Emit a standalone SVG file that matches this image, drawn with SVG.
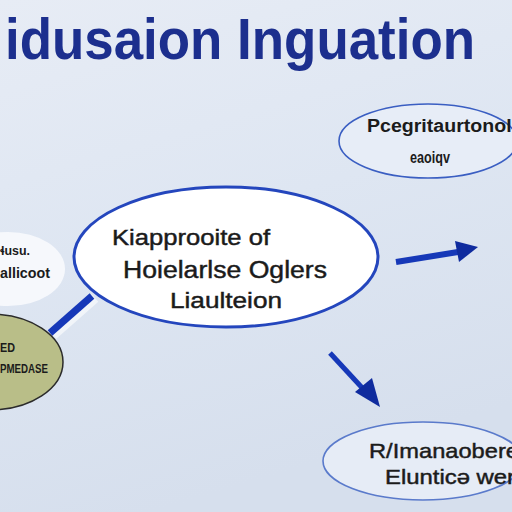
<svg xmlns="http://www.w3.org/2000/svg" width="512" height="512" viewBox="0 0 512 512">
<defs>
<linearGradient id="bg" x1="0" y1="0" x2="0.3" y2="1">
<stop offset="0" stop-color="#e7ecf5"/>
<stop offset="0.5" stop-color="#dee6f2"/>
<stop offset="1" stop-color="#d6dfed"/>
</linearGradient>
<style>
.title{font-family:"Liberation Sans",Arial,sans-serif;font-weight:bold;fill:#1c2f8e}
.t{font-family:"Liberation Sans",Arial,sans-serif;fill:#1b1b1b;stroke:#1b1b1b;stroke-width:0.45}
.b{font-weight:bold;stroke-width:0}
.conn{stroke:#1638b8;stroke-linecap:butt;fill:none}
.head{fill:#0f2b9e}
</style>
</defs>
<rect width="512" height="512" fill="url(#bg)"/>
<text class="title" x="5" y="59" font-size="57" textLength="470" lengthAdjust="spacingAndGlyphs">idusaion Inguation</text>

<g id="connectors">
<line x1="53" y1="335" x2="95" y2="298" stroke="#ffffff" stroke-width="10" stroke-opacity="0.6"/>
<line class="conn" x1="50" y1="333" x2="92" y2="296" stroke-width="7"/>
<line class="conn" x1="396" y1="262" x2="458" y2="252" stroke="#0f2b9e" stroke-width="6"/>
<polygon class="head" points="478,247 455,241 459,262"/>
<line class="conn" x1="330" y1="353" x2="366" y2="392" stroke="#0f2b9e" stroke-width="5"/>
<polygon class="head" points="380,407 355,392 372,378"/>
</g>

<g id="node-top-right">
<ellipse cx="428" cy="141" rx="89" ry="37" fill="#e7edf7" stroke="#3a5ec2" stroke-width="1.6"/>
<text class="t b" x="367" y="132" font-size="18" textLength="150" lengthAdjust="spacingAndGlyphs">Pcegritaurtonolı</text>
<text class="t b" x="430" y="163" font-size="17" text-anchor="middle" textLength="40" lengthAdjust="spacingAndGlyphs">eaoiqv</text>
</g>

<g id="node-center">
<ellipse cx="226" cy="257" rx="152" ry="70" fill="#ffffff" stroke="#2446bd" stroke-width="3"/>
<text class="t" x="112" y="245" font-size="22" textLength="158" lengthAdjust="spacingAndGlyphs">Kiapprooite of</text>
<text class="t" x="123" y="278" font-size="23" textLength="204" lengthAdjust="spacingAndGlyphs">Hoielarlse Oglers</text>
<text class="t" x="170" y="308" font-size="22" textLength="112" lengthAdjust="spacingAndGlyphs">Liaulteion</text>
</g>

<g id="node-left-top">
<ellipse cx="8" cy="269" rx="57" ry="37" fill="#f6f8fc"/>
<text class="t b" x="0" y="255" font-size="13" textLength="30" lengthAdjust="spacingAndGlyphs">ɬusu.</text>
<text class="t b" x="0" y="278" font-size="14" textLength="50" lengthAdjust="spacingAndGlyphs">allicoot</text>
</g>

<g id="node-left-bottom">
<ellipse cx="-10" cy="362" rx="73" ry="48" fill="#b9be88" stroke="#2b2b2b" stroke-width="1.5"/>
<text class="t b" x="0" y="352" font-size="12" textLength="15" lengthAdjust="spacingAndGlyphs">ED</text>
<text class="t b" x="0" y="373" font-size="12" textLength="48" lengthAdjust="spacingAndGlyphs">PMEDASE</text>
</g>

<g id="node-bottom-right">
<ellipse cx="423" cy="461" rx="100" ry="39" fill="#e6ecf6" stroke="#5a7acb" stroke-width="1.6"/>
<text class="t" x="369" y="458" font-size="21" textLength="150" lengthAdjust="spacingAndGlyphs">R/Imanaobere</text>
<text class="t" x="385" y="484" font-size="20" textLength="130" lengthAdjust="spacingAndGlyphs">Elunticə wer</text>
</g>
</svg>
